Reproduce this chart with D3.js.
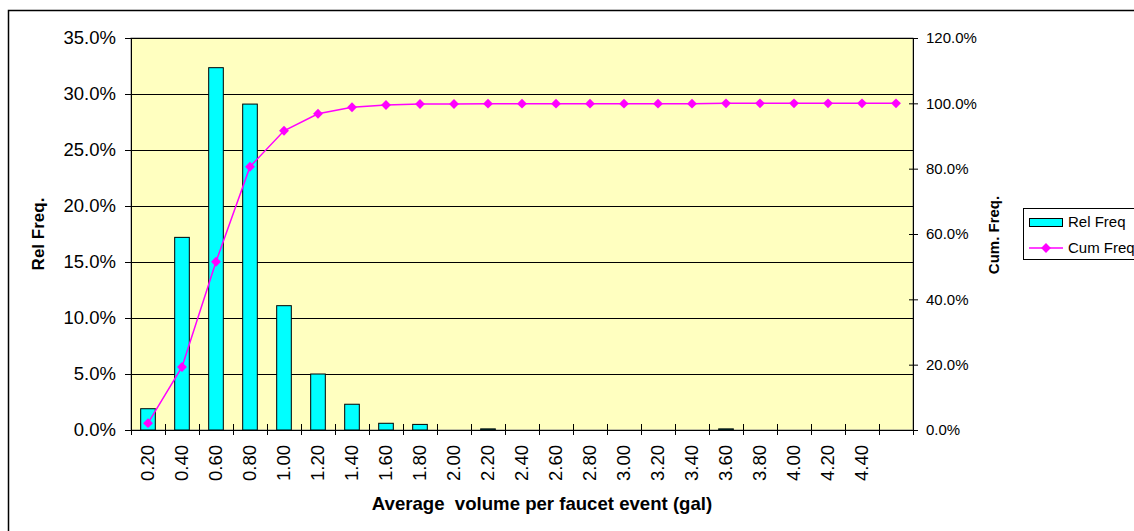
<!DOCTYPE html>
<html>
<head>
<meta charset="utf-8">
<script src="https://cdn.jsdelivr.net/npm/d3@7/dist/d3.min.js"></script>
<style>
  html, body { margin: 0; padding: 0; background: #fff; }
  svg { display: block; font-family: "Liberation Sans", Arial, sans-serif; }
</style>
</head>
<body>
<svg id="chart" width="1134" height="531"></svg>
<script>
const categories = ["0.20","0.40","0.60","0.80","1.00","1.20","1.40","1.60","1.80","2.00","2.20","2.40","2.60","2.80","3.00","3.20","3.40","3.60","3.80","4.00","4.20","4.40",""];
const relFreq = [1.9, 17.2, 32.35, 29.1, 11.1, 5.0, 2.3, 0.6, 0.5, 0, 0.1, 0, 0, 0, 0, 0, 0, 0.1, 0, 0, 0, 0, 0];
const cumFreq = [2.1, 19.3, 51.5, 80.6, 91.6, 96.8, 98.8, 99.5, 99.8, 99.8, 99.9, 99.9, 99.9, 99.9, 99.9, 99.9, 99.9, 100, 100, 100, 100, 100, 100];
const leftTicks = [0, 5, 10, 15, 20, 25, 30, 35];
const rightTicks = [0, 20, 40, 60, 80, 100, 120];
const seriesNames = ["Rel Freq", "Cum Freq"];
const xTitle = "Average  volume per faucet event (gal)";
const yLeftTitle = "Rel Freq.";
const yRightTitle = "Cum. Freq.";

const svg = d3.select("#chart");
const L = 131, R = 913, T = 38, B = 430;

// outer chart border (clipped by the window)
svg.append("rect").attr("x", 8.5).attr("y", 10.5).attr("width", 1200).attr("height", 600)
  .attr("fill", "#fff").attr("stroke", "#000").attr("stroke-width", 1.5);

const idx = d3.range(categories.length);
const x = d3.scaleBand().domain(idx).range([L, R]).paddingInner(0).paddingOuter(0);
const xb = d3.scaleBand().domain(idx).range([L, R]).paddingInner(0.57).paddingOuter(0.285);
const yL = d3.scaleLinear().domain([0, 35]).range([B, T]);
const yR = d3.scaleLinear().domain([0, 120]).range([B, T]);

// plot area
svg.append("rect").attr("x", L).attr("y", T).attr("width", R - L).attr("height", B - T)
  .attr("fill", "#FFFFC0").attr("stroke", "#808080").attr("stroke-width", 1);

// gridlines
svg.append("g").selectAll("line").data(leftTicks.filter(d => d > 0)).join("line")
  .attr("x1", L).attr("x2", R)
  .attr("y1", d => Math.round(yL(d)) + 0.5).attr("y2", d => Math.round(yL(d)) + 0.5)
  .attr("stroke", "#000").attr("stroke-width", 1);

// bars
svg.append("g").selectAll("rect").data(relFreq).join("rect")
  .attr("x", (d, i) => xb(i))
  .attr("width", xb.bandwidth())
  .attr("y", d => yL(d))
  .attr("height", d => B - yL(d))
  .attr("fill", d => d > 0 ? "#00FFFF" : "none")
  .attr("stroke", d => d > 0 ? "#000" : "none")
  .attr("stroke-width", 1);

// left axis
const axL = d3.axisLeft(yL).tickValues(leftTicks).tickFormat(d => d.toFixed(1) + "%").tickSize(6).tickPadding(9);
const gL = svg.append("g").attr("transform", `translate(${L},0)`).call(axL);
gL.select(".domain").attr("stroke", "#000");
gL.selectAll(".tick line").attr("stroke", "#000").attr("x2", -6).attr("x1", 0);
gL.selectAll(".tick text").attr("font-size", 18.5).attr("fill", "#000").attr("font-family", "Liberation Sans, Arial, sans-serif");

// right axis
const axR = d3.axisRight(yR).tickValues(rightTicks).tickFormat(d => d.toFixed(1) + "%").tickSize(5).tickPadding(8);
const gR = svg.append("g").attr("transform", `translate(${R},0)`).call(axR);
gR.select(".domain").attr("stroke", "#000");
gR.selectAll(".tick line").attr("stroke", "#000").attr("x1", -4).attr("x2", 5);
gR.selectAll(".tick text").attr("font-size", 15).attr("fill", "#000").attr("font-family", "Liberation Sans, Arial, sans-serif");

// bottom axis: labels
const axB = d3.axisBottom(x).tickFormat(i => categories[i]).tickSize(0).tickPadding(0);
const gB = svg.append("g").attr("transform", `translate(0,${B})`).call(axB);
gB.select(".domain").remove();
gB.selectAll(".tick text")
  .attr("font-size", 18.5).attr("fill", "#000").attr("font-family", "Liberation Sans, Arial, sans-serif")
  .attr("transform", "rotate(-90)")
  .attr("text-anchor", "end")
  .attr("x", -15).attr("y", 0).attr("dy", "0.35em");
// bottom axis line and boundary ticks
svg.append("line").attr("x1", L).attr("x2", R).attr("y1", B + 0.5).attr("y2", B + 0.5).attr("stroke", "#000");
svg.append("g").selectAll("line").data(d3.range(categories.length + 1)).join("line")
  .attr("x1", i => Math.round(i < categories.length ? x(i) : R) + 0.5)
  .attr("x2", i => Math.round(i < categories.length ? x(i) : R) + 0.5)
  .attr("y1", B - 6).attr("y2", B + 5)
  .attr("stroke", "#000");

// cumulative line
const line = d3.line().x((d, i) => x(i) + x.bandwidth() / 2).y(d => yR(d));
svg.append("path").datum(cumFreq).attr("d", line)
  .attr("fill", "none").attr("stroke", "#FF00FF").attr("stroke-width", 1.5);
const diamond = d3.symbol().type(d3.symbolDiamond2).size(62);
svg.append("g").selectAll("path").data(cumFreq).join("path")
  .attr("d", diamond)
  .attr("transform", (d, i) => `translate(${x(i) + x.bandwidth() / 2},${yR(d)})`)
  .attr("fill", "#FF00FF");

// titles
svg.append("text").attr("x", 542).attr("y", 510).attr("text-anchor", "middle")
  .attr("xml:space", "preserve").style("white-space", "pre")
  .attr("font-size", 18.6).attr("font-weight", "bold").text(xTitle);
svg.append("text").attr("transform", "translate(44,234) rotate(-90)").attr("text-anchor", "middle")
  .attr("font-size", 17).attr("font-weight", "bold").text(yLeftTitle);
svg.append("text").attr("transform", "translate(999,235) rotate(-90)").attr("text-anchor", "middle")
  .attr("font-size", 15).attr("font-weight", "bold").text(yRightTitle);

// legend
const lg = svg.append("g");
lg.append("rect").attr("x", 1023.5).attr("y", 208.5).attr("width", 200).attr("height", 51)
  .attr("fill", "#fff").attr("stroke", "#000");
lg.append("rect").attr("x", 1029.5).attr("y", 218.5).attr("width", 33).attr("height", 8)
  .attr("fill", "#00FFFF").attr("stroke", "#000");
lg.append("text").attr("x", 1068).attr("y", 227).attr("font-size", 15).text(seriesNames[0]);
lg.append("line").attr("x1", 1029).attr("x2", 1063).attr("y1", 248).attr("y2", 248)
  .attr("stroke", "#FF00FF").attr("stroke-width", 1.5);
lg.append("path").attr("d", diamond).attr("transform", "translate(1046,248)").attr("fill", "#FF00FF");
lg.append("text").attr("x", 1068).attr("y", 253).attr("font-size", 15).text(seriesNames[1]);
</script>
</body>
</html>
